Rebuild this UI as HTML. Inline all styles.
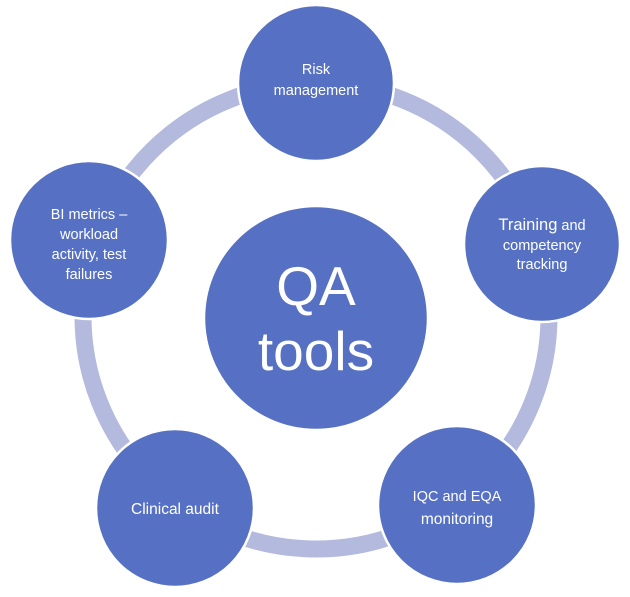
<!DOCTYPE html>
<html><head><style>
html,body{margin:0;padding:0;background:#fff;}
svg text{font-family:"Liberation Sans",sans-serif;fill:#fff;text-anchor:middle;}
</style></head><body>
<svg width="630" height="592" viewBox="0 0 630 592" xmlns="http://www.w3.org/2000/svg">
<circle cx="316" cy="316" r="233" fill="none" stroke="#b4bade" stroke-width="17"/>
<g fill="#5670c3" stroke="#fff" stroke-width="2.5">
<circle cx="316" cy="83" r="78"/>
<circle cx="542" cy="244" r="78"/>
<circle cx="457" cy="505" r="79"/>
<circle cx="175" cy="508" r="79"/>
<circle cx="89" cy="240" r="79"/>
<circle cx="316" cy="318" r="112"/>
</g>
<g font-size="14.5">
<text x="316" y="74">Risk</text>
<text x="316" y="95">management</text>
<text x="542" y="230"><tspan font-size="16.5">Training</tspan> and</text>
<text x="542" y="250">competency</text>
<text x="542" y="269">tracking</text>
<text x="457" y="501">IQC and EQA</text>
<text x="457" y="524" font-size="15.5">monitoring</text>
<text x="175" y="514" font-size="15.5">Clinical audit</text>
<text x="89" y="219">BI metrics –</text>
<text x="89" y="239">workload</text>
<text x="89" y="259">activity, test</text>
<text x="89" y="279">failures</text>
</g>
<text x="316" y="305" font-size="55">QA</text>
<text x="316" y="370" font-size="55">tools</text>
</svg>
</body></html>
